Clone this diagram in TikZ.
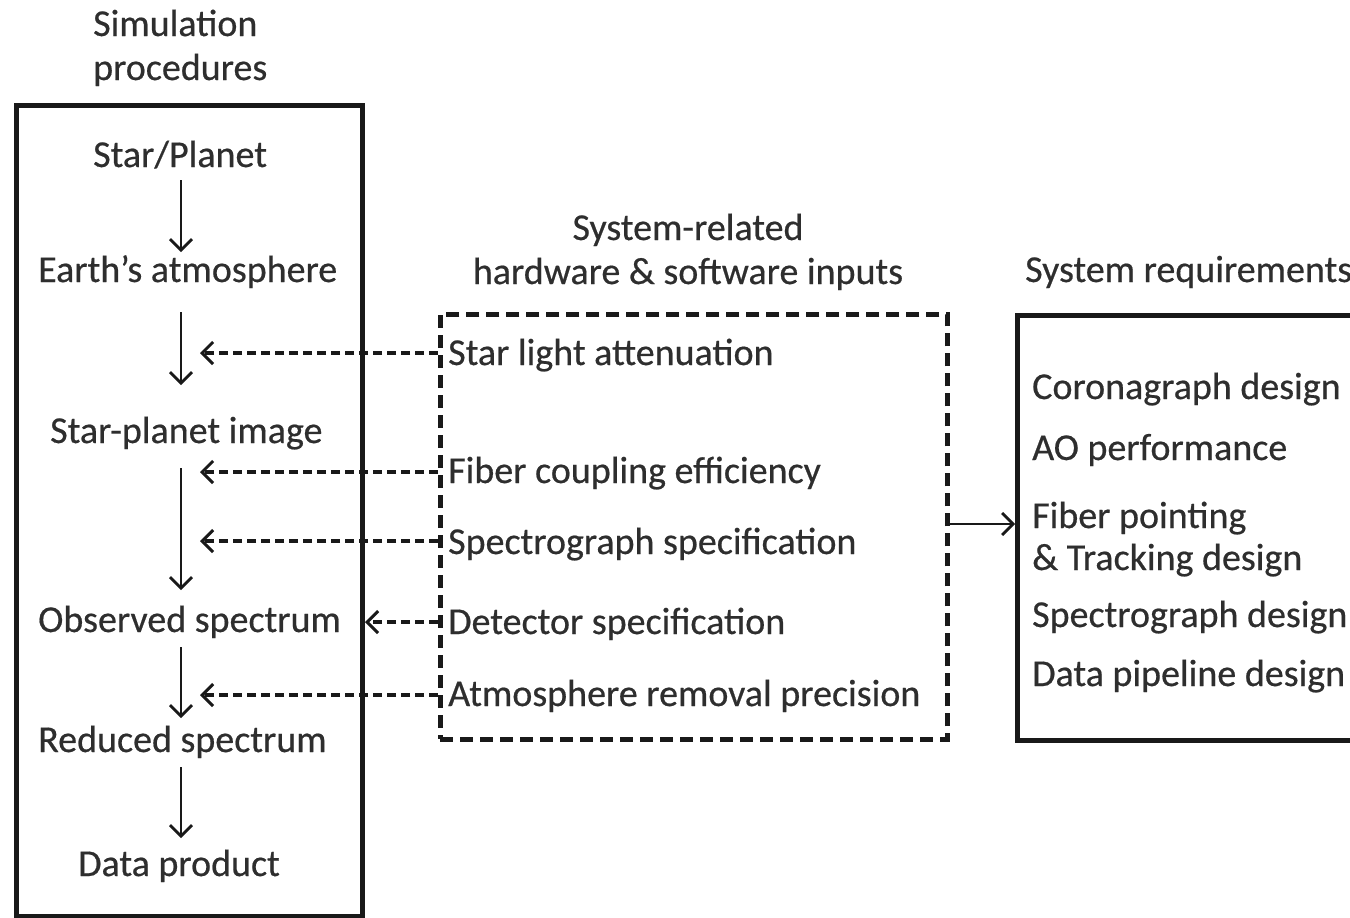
\documentclass[tikz,border=0pt]{standalone}
\usepackage{fontspec}
\setmainfont{Carlito}
\newfontfamily\dkfont{Carlito}[FakeBold=0.5]
\usetikzlibrary{arrows.meta}
\begin{document}
\begin{tikzpicture}[x=1pt,y=-1pt,
  txt/.style={font=\dkfont\fontsize{38}{46}\selectfont, inner sep=0pt, anchor=base west, text=black!82},
  ctxt/.style={txt, anchor=base},
  box/.style={draw=black!90, line width=5pt, anchor=north west, inner sep=0pt},
  dbox/.style={box, line width=4.5pt, dash pattern=on 13pt off 7pt},
  flow/.style={draw=black!90, line width=2.8pt, -{Straight Barb[length=11pt,width=22pt,line width=2.8pt]}},
  feed/.style={draw=black!90, line width=3.2pt, dash pattern=on 9pt off 5pt, -{Straight Barb[length=11pt,width=22pt,line width=3pt]}}]
\useasboundingbox (0,0) rectangle (1350,918);
\clip (0,0) rectangle (1350,918);

% boxes
\node[box, minimum width=346pt, minimum height=811pt] (sim) at (14,103) {};
\node[dbox, minimum width=507pt, minimum height=425pt] (inp) at (438,312) {};
\node[box, minimum width=420pt, minimum height=425pt] (req) at (1015,313) {};

% headings
\node[txt] (h1a) at (93,36) {Simulation};
\node[txt] (h1b) at (93,80) {procedures};
\node[ctxt] (h2a) at (688,240) {System-related};
\node[ctxt] (h2b) at (688,284) {hardware \& software inputs};
\node[txt] (h3) at (1025,282) {System requirements};

% simulation steps
\node[txt] (s1) at (93,167) {Star/Planet};
\node[txt] (s2) at (38,282) {Earth’s atmosphere};
\node[txt] (s3) at (50,443) {Star-planet image};
\node[txt] (s4) at (38,632) {Observed spectrum};
\node[txt] (s5) at (38,752) {Reduced spectrum};
\node[txt] (s6) at (78,876) {Data product};

% inputs
\node[txt] (i1) at (448,365) {Star light attenuation};
\node[txt] (i2) at (448,483) {Fiber coupling efficiency};
\node[txt] (i3) at (448,554) {Spectrograph specification};
\node[txt] (i4) at (448,634) {Detector specification};
\node[txt] (i5) at (448,706) {Atmosphere removal precision};

% requirements
\node[txt] (r1) at (1032,399) {Coronagraph design};
\node[txt] (r2) at (1032,460) {AO performance};
\node[txt] (r3) at (1032,528) {Fiber pointing};
\node[txt] (r4) at (1032,570) {\& Tracking design};
\node[txt] (r5) at (1032,627) {Spectrograph design};
\node[txt] (r6) at (1032,686) {Data pipeline design};

% flow arrow end points
\coordinate (a1s) at (181,180); \coordinate (a1e) at (181,252);
\coordinate (a2s) at (181,312); \coordinate (a2e) at (181,385);
\coordinate (a3s) at (181,468); \coordinate (a3e) at (181,590);
\coordinate (a4s) at (181,647); \coordinate (a4e) at (181,718);
\coordinate (a5s) at (181,767); \coordinate (a5e) at (181,838);
\draw[flow] (a1s) -- (a1e);
\draw[flow] (a2s) -- (a2e);
\draw[flow] (a3s) -- (a3e);
\draw[flow] (a4s) -- (a4e);
\draw[flow] (a5s) -- (a5e);

% feed arrows
\coordinate (f1) at (200,353);
\coordinate (f2) at (200,472);
\coordinate (f3) at (200,541);
\coordinate (f4) at (sim.east |- 0,622);
\coordinate (f5) at (200,695);
\draw[feed] (inp.west |- f1) -- (f1);
\draw[feed] (inp.west |- f2) -- (f2);
\draw[feed] (inp.west |- f3) -- (f3);
\draw[feed] (inp.west |- f4) -- (f4);
\draw[feed] (inp.west |- f5) -- (f5);

% output arrow
\coordinate (o1) at (945,524);
\draw[flow] (inp.east |- o1) -- (req.west |- o1);
\end{tikzpicture}
\end{document}
